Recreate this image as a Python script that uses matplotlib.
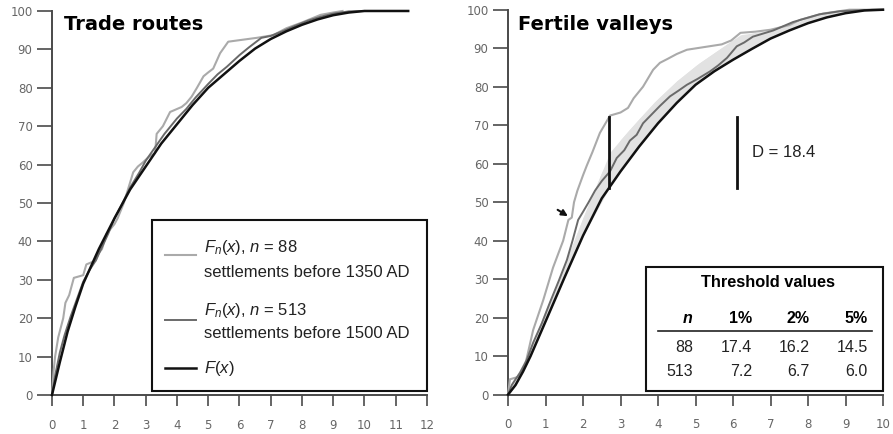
import numpy as np
import matplotlib.pyplot as plt
from matplotlib.patches import Rectangle

plt.rcParams['font.family'] = ['Liberation Sans', 'DejaVu Sans']
plt.rcParams['mathtext.fontset'] = 'custom'
plt.rcParams['mathtext.rm'] = 'Liberation Sans'
plt.rcParams['mathtext.it'] = 'Liberation Sans:italic'

# ---- Trade routes (left) ----
tr_x_F = [0, 0.25, 0.5, 0.75, 1, 1.5, 2, 2.5, 3, 3.5, 4, 4.5, 5, 5.5, 6, 6.5, 7, 7.5, 8, 8.5, 9, 9.5, 10, 11.4]
tr_y_F = [0, 8.5, 16.5, 23, 29, 38, 46, 53.5, 59.5, 65.5, 70.5, 75.5, 80, 83.5, 87, 90.2, 92.7, 94.7, 96.4, 97.8, 98.9, 99.6, 100, 100]

tr_x_513 = [0, 0.1, 0.25, 0.4, 0.6, 0.8, 1.0, 1.2, 1.4, 1.6, 1.8, 2.0, 2.2, 2.5, 2.8, 3.0, 3.3, 3.6, 4.0, 4.3,
            4.6, 5.0, 5.3, 5.6, 6.0, 6.3, 6.7, 7.0, 7.4, 7.8, 8.2, 8.6, 9.0, 9.5, 10]
tr_y_513 = [0, 5, 11, 15.5, 20.5, 25, 29.5, 32.5, 35, 38.5, 42, 46, 49, 54, 58, 61, 64.5, 68, 72, 74.5,
            77.5, 81, 83.5, 85.5, 88.5, 90.5, 93, 93.5, 94.8, 96.2, 97.5, 98.5, 99.3, 99.9, 100]

tr_x_88 = [0, 0.05, 0.1, 0.2, 0.36, 0.43, 0.55, 0.7, 1.0, 1.1, 1.4, 1.5, 1.6, 1.75, 1.85, 2.0, 2.1, 2.3, 2.45,
           2.6, 2.75, 2.9, 3.1, 3.3, 3.35, 3.55, 3.78, 4.15, 4.3, 4.47, 4.64, 4.85, 5.0, 5.16, 5.38, 5.64,
           6.0, 6.55, 7.08, 7.5, 8.0, 8.6, 9.0, 9.3]
tr_y_88 = [0, 6, 10, 15, 20, 24, 26, 30.5, 31.2, 34, 35, 37, 38, 42, 43, 44.5, 46, 50, 54,
           58, 59.5, 60.5, 62, 63, 68, 70, 73.7, 75, 76, 77.7, 80, 83, 84, 85, 89, 92,
           92.4, 93, 93.7, 95.5, 97, 99, 99.6, 100]

# ---- Fertile valleys (right) ----
fv_x_F = [0, 0.2, 0.4, 0.6, 0.8, 1, 1.5, 2, 2.5, 3, 3.5, 4, 4.5, 5, 5.5, 6, 6.5, 7, 7.5, 8, 8.5, 9, 9.5, 10]
fv_y_F = [0, 2.5, 6, 10, 14.5, 19, 30.3, 41.3, 51, 58, 64.5, 70.5, 75.8, 80.5, 84, 87, 89.8, 92.5, 94.6, 96.5, 98, 99.1, 99.8, 100]

fv_x_513 = [0, 0.1, 0.2, 0.32, 0.5, 0.67, 0.9, 1.12, 1.35, 1.57, 1.72, 1.87, 2.0, 2.15, 2.32, 2.5, 2.72, 2.9, 3.1,
            3.25, 3.43, 3.6, 3.8, 4.05, 4.32, 4.55, 4.77, 5.05, 5.39, 5.6, 5.84, 6.1, 6.3, 6.53, 7.07,
            7.6, 8.3, 8.85, 9.7, 10]
fv_y_513 = [0, 2.5, 4, 5.7, 9, 13.5, 18.5, 24, 29.5, 35, 40, 45.4, 47.5, 50, 53, 55.5, 58, 61.5, 63.5,
            66, 67.5, 70.5, 72.5, 75, 77.5, 79, 80.5, 82, 84, 85.5, 87.5, 90.5, 91.5, 93, 94.6,
            96.8, 98.8, 99.6, 100, 100]

fv_x_88 = [0, 0.05, 0.3, 0.45, 0.67, 0.94, 1.2, 1.47, 1.61, 1.7, 1.76, 1.85, 2.0, 2.1, 2.25, 2.45, 2.6, 2.72,
           3.0, 3.2, 3.35, 3.6, 3.87, 4.05, 4.25, 4.5, 4.77, 5.3, 5.7, 5.95, 6.2, 6.6, 7.0, 7.5, 7.8,
           8.4, 9.1, 10]
fv_y_88 = [0, 4, 4.7, 7.4, 16.8, 24.6, 33, 40, 45.4, 46, 50, 53, 57, 59.5, 63, 68, 70.5, 72.5,
           73.3, 74.5, 77, 80, 84.4, 86.2, 87.2, 88.5, 89.6, 90.4, 91, 92, 94, 94.3, 94.8, 96, 97.4,
           99, 100, 100]

band_x = [0, 0.2, 0.5, 1.0, 1.5, 2.0, 2.72, 3.2, 3.9, 4.5, 5.1, 5.6, 6.2, 7.0, 7.5, 8.0, 8.5, 9.0, 9.5, 10]
band_y = [0, 4.5, 10, 22, 33.5, 46, 63, 68.5, 76, 81.5, 86.2, 89.5, 93.5, 94.6, 96, 97.8, 99, 99.6, 100, 100]

D_stat = 18.4
D_x = 2.7
D_bar_x = 6.1
D_bar_y0 = 53.7

thr_n = ['88', '513']
thr_cols = ['1%', '2%', '5%']
thr_vals = [['17.4', '16.2', '14.5'], ['7.2', '6.7', '6.0']]

c_light = '#aaaaaa'
c_dark = '#6a6a6a'
c_black = '#111111'
c_axis = '#4a4a4a'
c_tick = '#666666'


def style_axis(ax, xmax):
    ax.set_xlim(0, xmax)
    ax.set_ylim(0, 100)
    ax.set_xticks(np.arange(0, xmax + 1, 1))
    ax.set_yticks(np.arange(0, 101, 10))
    for s in ['top', 'right']:
        ax.spines[s].set_visible(False)
    for s in ['left', 'bottom']:
        ax.spines[s].set_color(c_axis)
        ax.spines[s].set_linewidth(1.4)
    ax.tick_params(axis='y', length=11, width=1.2, color=c_axis, labelcolor=c_tick,
                   labelsize=8.5, pad=3)
    ax.tick_params(axis='x', length=8, width=1.2, color=c_axis, labelcolor=c_tick,
                   labelsize=8.5, pad=9)
    for lab in ax.get_xticklabels() + ax.get_yticklabels():
        lab.set_fontfamily('DejaVu Sans')


fig = plt.figure(figsize=(8.93, 4.34), dpi=100)
ax1 = fig.add_axes([0.0582, 0.0899, 0.4199, 0.8848])
ax2 = fig.add_axes([0.5689, 0.0906, 0.4199, 0.887])

# left panel
ax1.plot(tr_x_88, tr_y_88, color=c_light, lw=1.5, clip_on=False, zorder=3)
ax1.plot(tr_x_513, tr_y_513, color=c_dark, lw=1.4, clip_on=False, zorder=4)
ax1.plot(tr_x_F, tr_y_F, color=c_black, lw=1.8, clip_on=False, zorder=5)
style_axis(ax1, 12)
ax1.text(0.032, 0.95, 'Trade routes', transform=ax1.transAxes, fontsize=14,
         fontweight='bold', family='DejaVu Sans', va='baseline', ha='left')

# legend box drawn by hand
ax1.add_patch(Rectangle((0.267, 0.01), 0.733, 0.446, transform=ax1.transAxes,
                        facecolor='white', edgecolor='#111111', lw=1.5, zorder=6, clip_on=False))
leg = [(c_light, 1.5, 0.365, [(r'$F_n(x)$, $n$ = 88', 0.385), ('settlements before 1350 AD', 0.32)]),
       (c_dark, 1.4, 0.195, [(r'$F_n(x)$, $n$ = 513', 0.219), ('settlements before 1500 AD', 0.161)]),
       (c_black, 1.8, 0.070, [(r'$F(x)$', 0.070)])]
for col, lw, ly, texts in leg:
    ax1.plot([0.301, 0.384], [ly, ly], color=col, lw=lw, transform=ax1.transAxes, zorder=7, clip_on=False)
    for t, ty in texts:
        ax1.text(0.405, ty, t, transform=ax1.transAxes, fontsize=12, color='#222222',
                 va='center', ha='left', zorder=7)

# right panel
ax2.fill_between(fv_x_F, fv_y_F, np.interp(fv_x_F, band_x, band_y), color='#e2e2e2', lw=0, zorder=2)
ax2.fill_between(band_x, np.interp(band_x, fv_x_F, fv_y_F), band_y, color='#e2e2e2', lw=0, zorder=2)
ax2.plot(fv_x_88, fv_y_88, color=c_light, lw=1.5, clip_on=False, zorder=3)
ax2.plot(fv_x_513, fv_y_513, color=c_dark, lw=1.4, clip_on=False, zorder=4)
ax2.plot(fv_x_F, fv_y_F, color=c_black, lw=1.8, clip_on=False, zorder=5)
style_axis(ax2, 10)
ax2.text(0.027, 0.948, 'Fertile valleys', transform=ax2.transAxes, fontsize=14,
         fontweight='bold', family='DejaVu Sans', va='baseline', ha='left')

# D statistic marks
yD = np.interp(D_x, fv_x_F, fv_y_F)
ax2.plot([D_x, D_x], [yD, yD + D_stat], color=c_black, lw=2, zorder=6)
ax2.plot([D_bar_x, D_bar_x], [D_bar_y0, D_bar_y0 + D_stat], color=c_black, lw=2, zorder=6)
ax2.text(D_bar_x + 0.4, D_bar_y0 + D_stat / 2, 'D = %.1f' % D_stat, fontsize=12,
         color='#222222', va='center', ha='left')
ax2.annotate('', xy=(1.66, 46), xytext=(1.26, 48.4),
             arrowprops=dict(arrowstyle='-|>', color=c_black, lw=1.5, mutation_scale=9), zorder=7)

# threshold table
ax2.add_patch(Rectangle((0.368, 0.0104), 0.632, 0.32, transform=ax2.transAxes,
                        facecolor='white', edgecolor='#111111', lw=1.5, zorder=6, clip_on=False))
ax2.text(0.693, 0.291, 'Threshold values', transform=ax2.transAxes, fontsize=11.8,
         fontweight='bold', ha='center', va='center', zorder=7)
col_x = [0.493, 0.651, 0.805, 0.96]
ax2.text(col_x[0], 0.197, 'n', transform=ax2.transAxes, fontsize=11.5, fontweight='bold',
         fontstyle='italic', ha='right', va='center', zorder=7)
for cx, c in zip(col_x[1:], thr_cols):
    ax2.text(cx, 0.197, c, transform=ax2.transAxes, fontsize=11.5, fontweight='bold',
             ha='right', va='center', zorder=7)
ax2.plot([0.4, 0.971], [0.166, 0.166], transform=ax2.transAxes, color='#222222', lw=1.2,
         zorder=7, clip_on=False)
for ry, n, vals in zip([0.122, 0.06], thr_n, thr_vals):
    ax2.text(col_x[0], ry, n, transform=ax2.transAxes, fontsize=11.5, ha='right', va='center',
             color='#222222', zorder=7)
    for cx, v in zip(col_x[1:], vals):
        ax2.text(cx, ry, v, transform=ax2.transAxes, fontsize=11.5, ha='right', va='center',
                 color='#222222', zorder=7)

fig.savefig('out.png', dpi=100)
